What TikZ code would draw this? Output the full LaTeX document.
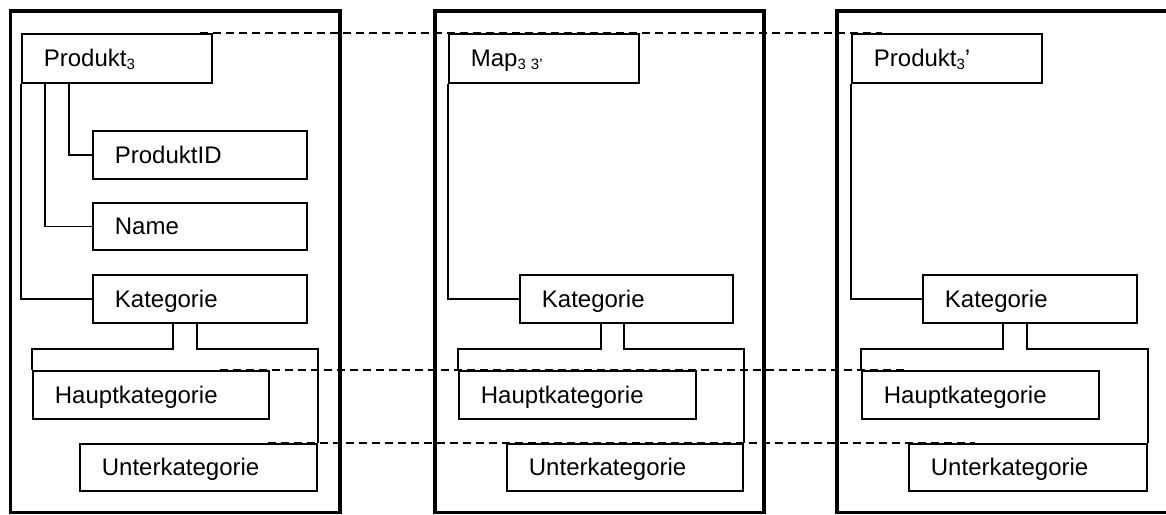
\documentclass[tikz,border=0pt]{standalone}
\usepackage{fontspec}
\setmainfont{Liberation Sans}
\usetikzlibrary{calc}
\newcommand\lowidx[1]{\raisebox{-3pt}{\fontsize{15}{15}\selectfont #1}}
\tikzset{
  panel/.style={draw, line width=3.5pt},
  box/.style={draw, line width=1.8pt, anchor=north west, inner xsep=22pt, inner ysep=0pt,
    align=left, text height=17pt, text depth=0pt, font=\fontsize{24}{28}\selectfont},
  conn/.style={line width=1.8pt},
  dashline/.style={line width=2.2pt, dash pattern=on 8pt off 5pt},
}
\begin{document}
\begin{tikzpicture}[x=1pt,y=-1pt]
\useasboundingbox (0,0) rectangle (1166,514);
\clip (0,0) rectangle (1166,514);
\fill[white] (0,0) rectangle (1166,514);
% panels
\draw[panel] (10.5,11) rectangle (340,512.5);
\draw[panel] (435,11) rectangle (764,512.5);
\draw[panel] (837,11) rectangle (1180,512.5);
% panel 1
\node[box, text width=146pt, minimum height=49pt] (p1) at (21,33) {Produkt\lowidx{3}};
\node[box, text width=170pt, minimum height=48pt] (pid) at (92,130) {ProduktID};
\node[box, text width=170pt, minimum height=47pt] (name) at (92,202) {Name};
\node[box, text width=170pt, minimum height=48pt] (kat1) at (92,274) {Kategorie};
\node[box, text width=192pt, minimum height=48pt] (haupt1) at (32,370) {Hauptkategorie};
\node[box, text width=193pt, minimum height=47pt] (unter1) at (79,443) {Unterkategorie};
\draw[conn] ($(p1.south west)+(48,0)$) |- (pid.west);
\draw[conn] ($(p1.south west)+(24,0)$) |- (name.west);
\draw[conn] (p1.south west) |- (kat1.west);
\draw[conn] ($(kat1.south west)+(81,0)$) -- ++(0,25) -| (haupt1.north west);
\draw[conn] ($(kat1.south west)+(105,0)$) -- ++(0,25) -| (unter1.north east);
% panel 2
\node[box, text width=146pt, minimum height=49pt] (map) at (448,33) {Map\lowidx{3\kern5pt3’}};
\node[box, text width=169pt, minimum height=48pt] (kat2) at (519,274) {Kategorie};
\node[box, text width=193pt, minimum height=48pt] (haupt2) at (458,370) {Hauptkategorie};
\node[box, text width=192pt, minimum height=47pt] (unter2) at (506,443) {Unterkategorie};
\draw[conn] (map.south west) |- (kat2.west);
\draw[conn] ($(kat2.south west)+(82,0)$) -- ++(0,25) -| (haupt2.north west);
\draw[conn] ($(kat2.south west)+(105,0)$) -- ++(0,25) -| (unter2.north east);
% panel 3
\node[box, text width=146pt, minimum height=49pt] (p3) at (851,33) {Produkt\lowidx{3}’};
\node[box, text width=170pt, minimum height=48pt] (kat3) at (922,274) {Kategorie};
\node[box, text width=193pt, minimum height=48pt] (haupt3) at (861,370) {Hauptkategorie};
\node[box, text width=194pt, minimum height=47pt] (unter3) at (908,443) {Unterkategorie};
\draw[conn] (p3.south west) |- (kat3.west);
\draw[conn] ($(kat3.south west)+(81,0)$) -- ++(0,25) -| (haupt3.north west);
\draw[conn] ($(kat3.south west)+(105,0)$) -- ++(0,25) -| (unter3.north east);
% dashed correspondences
\draw[dashline] ($(p1.north east)+(-13,0)$) -- ($(p3.north west)+(31,0)$);
\draw[dashline] ($(haupt1.north west)+(188,0)$) -- ($(haupt3.north west)+(44,0)$);
\draw[dashline] ($(unter1.north west)+(189,0)$) -- ($(unter3.north west)+(67,0)$);
\end{tikzpicture}
\end{document}
